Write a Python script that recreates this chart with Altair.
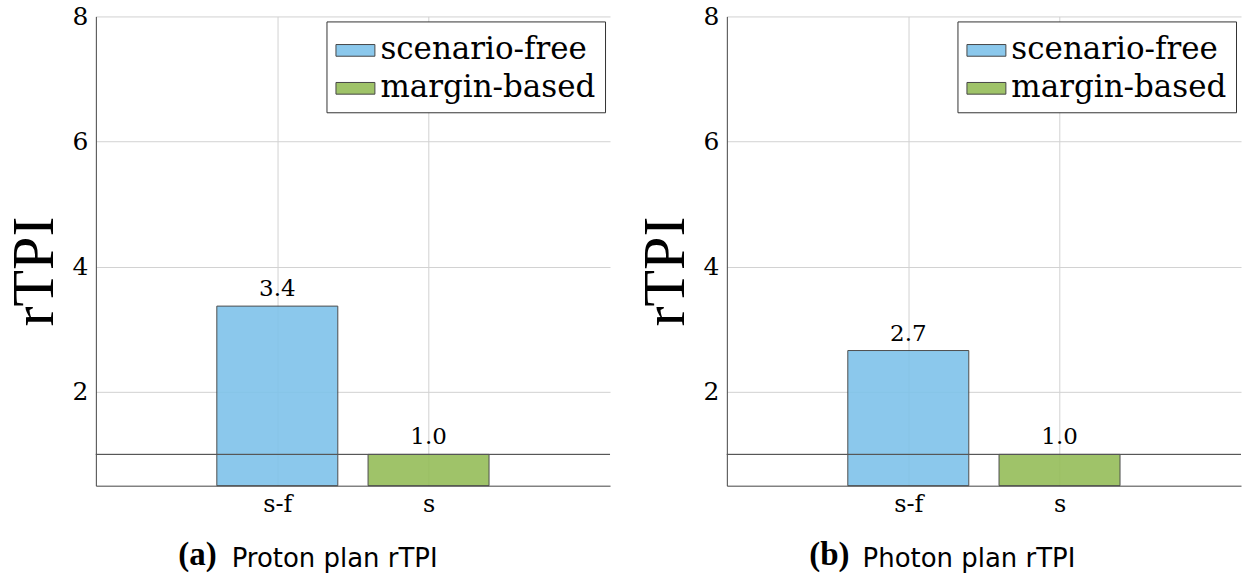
import json

import altair as alt
import pandas as pd

# Plan categories along the x axis and the method each bar represents
categories = ["s-f", "s"]
cat_pos = [1, 2]
methods = ["scenario-free", "margin-based"]

# Relative target protection index (rTPI) per plan type
proton_rtpi = [3.37, 1.0]
photon_rtpi = [2.66, 1.0]
reference_level = 1.0

# Axis ranges and ticks
y_min, y_max = 0.5, 8
y_ticks = [2, 4, 6, 8]
x_domain = [-0.2, 3.2]
bar_half_width = 0.4

SERIF = "DejaVu Serif"
TITLE_SERIF = "Liberation Serif"
SANS = "DejaVu Sans"
BAR_COLORS = ["#7FC3EA", "#95BD59"]
EDGE = "#3a3a3a"


def panel(values, letter, caption):
    df = pd.DataFrame(
        {"pos": cat_pos, "cat": categories, "method": methods, "rtpi": values}
    )
    x_scale = alt.Scale(domain=x_domain, nice=False, zero=False)
    y_scale = alt.Scale(domain=[y_min, y_max], nice=False, zero=False)

    x_axis = alt.Axis(
        values=cat_pos,
        labelExpr=f"{json.dumps(categories)}[datum.value - 1]",
        grid=True,
        gridColor="#d2d2d2",
        ticks=False,
        tickSize=0,
        domainColor="#444444",
        labelFont=SERIF,
        labelFontSize=24,
        labelColor="black",
        labelBaseline="alphabetic",
        labelPadding=26,
        title=letter,
        titleFont=TITLE_SERIF,
        titleFontWeight="bold",
        titleFontSize=33,
        titleColor="black",
        titleAlign="left",
        titleBaseline="alphabetic",
        titleX=82,
        titleY=79,
    )
    y_axis = alt.Axis(
        values=y_ticks,
        grid=True,
        gridColor="#d2d2d2",
        ticks=False,
        tickSize=0,
        domainColor="#444444",
        labelFont=SERIF,
        labelFontSize=25,
        labelColor="black",
        labelPadding=8,
        title="rTPI",
        titleFont=TITLE_SERIF,
        titleFontSize=60,
        titleFontWeight="normal",
        titleColor="black",
        titleAngle=270,
        titleAlign="center",
        titleBaseline="middle",
        titleX=-61,
        titleY=255,
    )

    base = alt.Chart(df)

    bars = (
        base.transform_calculate(
            lo=f"datum.pos - {bar_half_width}", hi=f"datum.pos + {bar_half_width}"
        )
        .mark_bar(stroke=EDGE, strokeWidth=1, opacity=0.9)
        .encode(
            x=alt.X("lo:Q", scale=x_scale, axis=x_axis),
            x2="hi:Q",
            y=alt.Y("rtpi:Q", scale=y_scale, axis=y_axis),
            y2=alt.datum(y_min),
            color=alt.Color(
                "method:N",
                scale=alt.Scale(domain=methods, range=BAR_COLORS),
                legend=alt.Legend(
                    title=None,
                    orient="top-right",
                    offset=5,
                    padding=9,
                    strokeColor="#333333",
                    fillColor="white",
                    labelFont=SERIF,
                    labelFontSize=31,
                    labelColor="black",
                    labelOffset=5,
                    labelLimit=400,
                    rowPadding=3,
                    symbolType="M-1,-0.3H1V0.3H-1Z",
                    symbolSize=1521,
                    symbolStrokeColor="#333333",
                    symbolStrokeWidth=1,
                    symbolOpacity=0.9,
                ),
            ),
        )
    )

    ref_line = base.mark_rule(color="#555555", strokeWidth=1).encode(
        y=alt.YDatum(reference_level, scale=y_scale, axis=y_axis)
    )

    labels = base.mark_text(
        font=SERIF,
        fontSize=23,
        color="black",
        baseline="alphabetic",
        dy=-10,
    ).encode(
        x=alt.X("pos:Q", scale=x_scale, axis=x_axis),
        y=alt.Y("rtpi:Q", scale=y_scale, axis=y_axis),
        text=alt.Text("rtpi:Q", format=".1f"),
    )

    return alt.layer(bars, ref_line, labels).properties(
        width=515,
        height=470,
        title=alt.TitleParams(
            text=caption,
            orient="bottom",
            anchor="start",
            frame="group",
            font=SANS,
            fontSize=26,
            fontWeight="normal",
            color="black",
            baseline="alphabetic",
            dx=136,
            dy=-5,
            offset=0,
        ),
    )


chart = (
    alt.hconcat(
        panel(proton_rtpi, "(a)", "Proton plan rTPI"),
        panel(photon_rtpi, "(b)", "Photon plan rTPI"),
        spacing=24,
    )
    .resolve_scale(color="independent")
    .resolve_legend(color="independent")
    .properties(padding={"left": 4, "top": 3, "right": 0, "bottom": 0})
    .configure(background="white")
    .configure_view(stroke="transparent")
)

chart.save("out.html", embed_options={"renderer": "svg", "actions": False})
